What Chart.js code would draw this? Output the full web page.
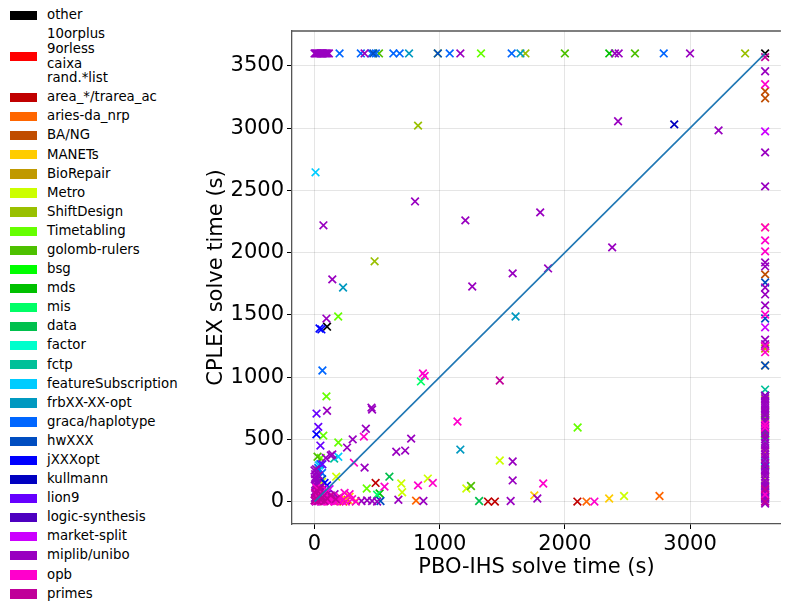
<!DOCTYPE html>
<html>
<head>
<meta charset="utf-8">
<title>PBO-IHS vs CPLEX solve time</title>
<script src="https://cdn.jsdelivr.net/npm/chart.js@4/dist/chart.umd.min.js"></script>
<style>
  body { margin: 0; background: #fff; font-family: "DejaVu Sans", sans-serif; }
  #wrap { position: relative; width: 788px; height: 605px; overflow: hidden; }
  #legend { position: absolute; left: 0; top: 6px; }
  .row { display: flex; align-items: center; }
  .swatch { width: 27px; height: 9.3px; margin-left: 10px; margin-right: 10px; flex: none; }
  .lbl { font-size: 13.3px; line-height: 14.6px; color: #000; white-space: pre; }
  #chart { position: absolute; left: 170px; top: 0; }
</style>
</head>
<body>
<div id="wrap">
  <div id="legend"></div>
  <canvas id="chart" width="618" height="605"></canvas>
</div>
<script>
// instance families, in legend order
const groupNames = [
  "other", "10orplus\n9orless\ncaixa\nrand.*list", "area_*/trarea_ac", "aries-da_nrp",
  "BA/NG", "MANETs", "BioRepair", "Metro", "ShiftDesign", "Timetabling",
  "golomb-rulers", "bsg", "mds", "mis", "data", "factor", "fctp",
  "featureSubscription", "frbXX-XX-opt", "graca/haplotype", "hwXXX", "jXXXopt",
  "kullmann", "lion9", "logic-synthesis", "market-split", "miplib/unibo", "opb", "primes",
];
const groupColors = [
  "#000000", "#ff0000", "#c00000", "#ff6600", "#c04d00", "#ffcc00", "#c09900",
  "#ccff00", "#99c000", "#66ff00", "#4dc000", "#00ff00", "#00c000", "#00ff66",
  "#00c04d", "#00ffcc", "#00c099", "#00ccff", "#0099c0", "#0066ff", "#004dc0",
  "#0000ff", "#0000c0", "#6600ff", "#4d00c0", "#cc00ff", "#9900c0", "#ff00cc", "#c00099",
];

// [PBO-IHS time, CPLEX time] per family
const ptsOther = [[100, 1405], [3600, 3600]];
const ptsRand = [[30, 15], [120, 40], [75, 5]];
const ptsArea = [[488, 150], [1386, 0], [1441, 0], [2100, 0], [200, 5], [250, 10]];
const ptsAries = [[811, 8], [2173, 0], [2756, 45], [230, 0], [265, 15], [3600, 650]];
const ptsBang = [[3600, 3296], [3600, 3240], [3600, 1825], [3600, 723], [3600, 539]];
const ptsManets = [[3600, 2202], [3600, 1093], [3600, 402], [1756, 50], [2354, 25], [150, 30],
  [200, 10], [280, 40], [330, 5], [3600, 300], [110, 15], [240, 20]];
const ptsBioRepair = [[40, 120], [3600, 1230], [180, 25]];
const ptsMetro = [[173, 200], [693, 145], [700, 75], [905, 185], [1213, 105], [1480, 330],
  [2473, 45], [3600, 820], [3600, 180], [60, 160], [80, 75]];
const ptsShift = [[827, 3020], [480, 1930], [985, 3600], [1685, 3600], [3440, 3600]];
const ptsTimetabling = [[95, 845], [189, 1487], [70, 530], [190, 475], [417, 105], [1330, 3600],
  [2102, 595], [3600, 675], [50, 350]];
const ptsGolomb = [[2000, 3600], [2560, 3600], [515, 3600], [24, 360], [1250, 125], [30, 250], [3600, 250]];
const ptsBsg = [[3600, 700], [25, 150]];
const ptsMds = [[2355, 3600], [520, 65], [3600, 1250]];
const ptsMis = [[850, 965], [500, 55], [3600, 480]];
const ptsData = [[598, 200], [1315, 5], [3600, 563]];
const ptsFactor = [[20, 100], [3600, 320]];
const ptsFctp = [[157, 345], [3600, 900]];
const ptsFeature = [[8, 2645], [190, 360], [35, 290], [3600, 120]];
const ptsFrb = [[228, 1720], [1606, 1487], [1165, 418], [755, 3600], [1645, 3600]];
const ptsGraca = [[63, 1053], [200, 3600], [370, 3600], [455, 3600], [630, 3600], [680, 3600],
  [1080, 3600], [1575, 3600], [2790, 3600], [47, 300], [30, 270], [60, 230], [40, 200], [490, 3600]];
const ptsHw = [[3600, 1760], [3600, 1471], [3600, 1093], [3600, 281], [527, 5], [985, 3600], [60, 180], [470, 3600]];
const ptsJ = [[15, 540], [40, 1390], [55, 1383], [80, 150], [100, 130]];
const ptsKull = [[2874, 3030], [3600, 850]];
const ptsLion = [[16, 707], [47, 450], [63, 300], [30, 600]];
const ptsLogic = [[100, 60], [3600, 30]];
const ptsMarket = [[3600, 2974], [3600, 1400], [150, 20], [120, 100]];
const ptsMiplib = [
  [0, 3600], [8, 3600], [15, 3600], [22, 3600], [30, 3600], [38, 3600], [45, 3600], [52, 3600],
  [60, 3600], [68, 3600], [75, 3600], [85, 3600], [95, 3600], [105, 3600], [115, 3600], [400, 3600],
  [1165, 3600], [2400, 3600], [2430, 3600], [3000, 3600],
  [71, 2219], [803, 2411], [1205, 2259], [1803, 2323], [1583, 1833], [1866, 1873], [2378, 2042],
  [1260, 1728], [142, 1785], [95, 1470], [2425, 3055], [3228, 2982], [100, 730], [455, 755],
  [460, 740], [410, 585], [305, 500], [260, 434], [400, 273], [142, 378], [772, 506], [653, 400],
  [724, 410], [1583, 322], [1583, 170], [1780, 25], [1567, 5], [670, 15], [870, 5], [375, 5],
  [420, 10], [460, 5], [500, 0],
  [3600, 3457], [3600, 2805], [3600, 2532], [3600, 1921], [3600, 1889], [3600, 1720], [3600, 1664],
  [3600, 1576], [3600, 1300], [3600, 1265], [3600, 850], [3600, 830], [3600, 810], [3600, 790],
  [3600, 770], [3600, 750], [3600, 730], [3600, 710], [3600, 690], [3600, 660], [3600, 640],
  [3600, 610], [3600, 580], [3600, 550], [3600, 520], [3600, 500], [3600, 470], [3600, 450],
  [3600, 430], [3600, 410], [3600, 380], [3600, 360], [3600, 340], [3600, 310], [3600, 290],
  [3600, 260], [3600, 240], [3600, 220], [3600, 200], [3600, 170], [3600, 150], [3600, 130],
  [3600, 110], [3600, 90], [3600, 70], [3600, 40], [3600, 20], [3600, 0], [3600, -15],
  [0, 250], [5, 220], [10, 200], [15, 180], [20, 160], [5, 140], [10, 120], [20, 100], [30, 80],
  [40, 60], [50, 40], [60, 20], [5, 60], [15, 40], [25, 20], [35, 5], [45, 120], [55, 90],
  [70, 50], [85, 30], [100, 10], [120, 5], [140, 15], [160, 60], [180, 10], [0, 10], [10, 0],
  [3, 30], [8, 80], [25, 140], [35, 210], [2, 180], [12, 260], [130, 370], [90, 350],
];
const ptsOpb = [
  [866, 1030], [880, 1010], [394, 522], [315, 313], [559, 120], [827, 130], [945, 150], [1142, 643],
  [1827, 145], [2236, 0], [3600, 3352], [3600, 2202], [3600, 2098], [3600, 2010], [3600, 1503],
  [3600, 1250], [3600, 1200], [3600, 620], [3600, 595], [3600, 56],
  [10, 5], [30, 10], [50, 0], [70, 5], [90, 15], [110, 0], [130, 5], [160, 0], [190, 10], [220, 5],
  [250, 0], [280, 60], [300, 20], [330, 0], [20, 50], [40, 30], [60, 70], [80, 40], [100, 90],
  [15, 110], [120, 30], [200, 40], [240, 70],
];
const ptsPrimes = [[1480, 973], [3600, 3570], [5, 10], [15, 25], [25, 5], [35, 45], [50, 15],
  [65, 35], [80, 5], [100, 25], [130, 50], [170, 20], [5, 70], [20, 90], [45, 100], [3600, 0], [3600, 100]];

const groupPoints = [
  ptsOther, ptsRand, ptsArea, ptsAries, ptsBang, ptsManets, ptsBioRepair, ptsMetro, ptsShift,
  ptsTimetabling, ptsGolomb, ptsBsg, ptsMds, ptsMis, ptsData, ptsFactor, ptsFctp, ptsFeature,
  ptsFrb, ptsGraca, ptsHw, ptsJ, ptsKull, ptsLion, ptsLogic, ptsMarket, ptsMiplib, ptsOpb, ptsPrimes,
];

const diagonal = [[0, 0], [3600, 3600]];
const xTicks = [0, 1000, 2000, 3000];
const yTicks = [0, 500, 1000, 1500, 2000, 2500, 3000, 3500];

const FONT = "DejaVu Sans";

// legend as html on the left
const legendEl = document.getElementById("legend");
groupNames.forEach((name, i) => {
  const lines = name.split("\n").length;
  const row = document.createElement("div");
  row.className = "row";
  row.style.height = 19.1 + (lines - 1) * 14.6 + "px";
  const sw = document.createElement("div");
  sw.className = "swatch";
  sw.style.background = groupColors[i];
  const lbl = document.createElement("div");
  lbl.className = "lbl";
  lbl.textContent = name;
  row.appendChild(sw);
  row.appendChild(lbl);
  legendEl.appendChild(row);
});

const datasets = groupPoints.map((pts, i) => ({
  label: groupNames[i],
  data: pts.map(([x, y]) => ({ x, y })),
  pointStyle: "crossRot",
  pointRadius: 5.4,
  pointHoverRadius: 5.4,
  borderColor: groupColors[i],
  backgroundColor: groupColors[i],
  pointBorderWidth: 1.7,
  showLine: false,
  order: groupPoints.length - i,
}));
datasets.push({
  type: "line",
  label: "diagonal",
  data: diagonal.map(([x, y]) => ({ x, y })),
  borderColor: "#1f77b4",
  borderWidth: 1.6,
  pointRadius: 0,
  fill: false,
  order: -1,
});

const topSpine = {
  id: "topSpine",
  afterDraw(chart) {
    const { ctx, chartArea: a } = chart;
    ctx.save();
    ctx.strokeStyle = "#555";
    ctx.lineWidth = 1.3;
    ctx.beginPath();
    ctx.moveTo(a.left, a.top);
    ctx.lineTo(a.right, a.top);
    ctx.stroke();
    ctx.restore();
  },
};

const axisFont = { family: FONT, size: 21 };

new Chart(document.getElementById("chart"), {
  type: "scatter",
  data: { datasets },
  options: {
    responsive: false,
    animation: false,
    devicePixelRatio: 1,
    events: [],
    layout: { padding: { top: 31, left: 0, right: 0, bottom: 0 } },
    plugins: { legend: { display: false }, tooltip: { enabled: false } },
    scales: {
      x: {
        type: "linear",
        min: -180,
        max: 3726,
        afterBuildTicks: (s) => { s.ticks = xTicks.map((v) => ({ value: v })); },
        afterFit: (s) => { s.height = 81; },
        grid: { color: "rgba(0,0,0,0.1)", lineWidth: 1, tickColor: "#000", tickLength: 5 },
        border: { color: "#555", width: 1.3 },
        ticks: { color: "#000", font: axisFont, padding: 3, callback: (v) => String(v) },
        title: { display: true, text: "PBO-IHS solve time (s)", color: "#000", font: axisFont,
          padding: { top: 0, bottom: 25 } },
      },
      y: {
        type: "linear",
        min: -180,
        max: 3780,
        afterBuildTicks: (s) => { s.ticks = yTicks.map((v) => ({ value: v })); },
        afterFit: (s) => { s.width = 122; },
        grid: { color: "rgba(0,0,0,0.1)", lineWidth: 1, tickColor: "#000", tickLength: 5 },
        border: { color: "#555", width: 1.3 },
        ticks: { color: "#000", font: axisFont, padding: 3, callback: (v) => String(v) },
        title: { display: true, text: "CPLEX solve time (s)", color: "#000", font: axisFont,
          padding: { top: 34, bottom: 0 } },
      },
    },
  },
  plugins: [topSpine],
});
</script>
</body>
</html>
